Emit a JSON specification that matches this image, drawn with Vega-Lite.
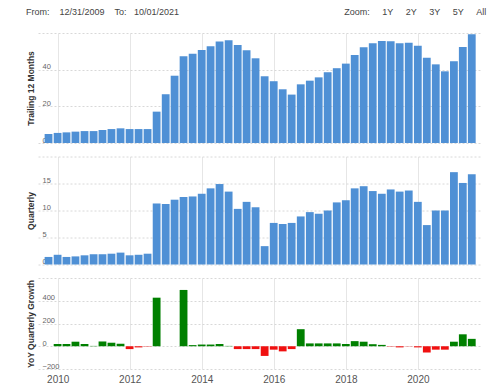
{
  "$schema": "https://vega.github.io/schema/vega-lite/v6.json",
  "padding": {"left": 26, "top": 8, "right": 4, "bottom": 2},
  "title": {
    "text": "From:\u00a0\u00a0\u00a0\u00a012/31/2009\u00a0\u00a0\u00a0\u00a0To:\u00a0\u00a0\u00a010/01/2021\u00a0\u00a0\u00a0\u00a0\u00a0\u00a0\u00a0\u00a0\u00a0\u00a0\u00a0\u00a0\u00a0\u00a0\u00a0\u00a0\u00a0\u00a0\u00a0\u00a0\u00a0\u00a0\u00a0\u00a0\u00a0\u00a0\u00a0\u00a0\u00a0\u00a0\u00a0\u00a0\u00a0\u00a0\u00a0\u00a0\u00a0\u00a0\u00a0\u00a0\u00a0\u00a0\u00a0\u00a0\u00a0\u00a0\u00a0\u00a0\u00a0\u00a0\u00a0\u00a0\u00a0\u00a0\u00a0\u00a0\u00a0\u00a0\u00a0\u00a0\u00a0\u00a0\u00a0\u00a0\u00a0\u00a0Zoom:\u00a0\u00a0\u00a0\u00a0\u00a01Y\u00a0\u00a0\u00a0\u00a0\u00a02Y\u00a0\u00a0\u00a0\u00a0\u00a03Y\u00a0\u00a0\u00a0\u00a0\u00a05Y\u00a0\u00a0\u00a0\u00a0\u00a0All",
    "anchor": "start",
    "font": "Liberation Sans",
    "fontSize": 9,
    "fontWeight": "normal",
    "color": "#444",
    "offset": 16
  },
  "data": {
    "values": [
      {"date": "2009-09-30", "t12m": 4.9, "quarterly": 1.4, "growth": null},
      {"date": "2009-12-31", "t12m": 5.5, "quarterly": 1.8, "growth": 20},
      {"date": "2010-03-31", "t12m": 5.8, "quarterly": 1.4, "growth": 20},
      {"date": "2010-06-30", "t12m": 6.2, "quarterly": 1.5, "growth": 40},
      {"date": "2010-09-30", "t12m": 6.5, "quarterly": 1.7, "growth": 20},
      {"date": "2010-12-31", "t12m": 6.5, "quarterly": 1.9, "growth": 3},
      {"date": "2011-03-31", "t12m": 7.1, "quarterly": 1.9, "growth": 42},
      {"date": "2011-06-30", "t12m": 7.6, "quarterly": 2.0, "growth": 31},
      {"date": "2011-09-30", "t12m": 8.0, "quarterly": 2.2, "growth": 22},
      {"date": "2011-12-31", "t12m": 7.6, "quarterly": 1.7, "growth": -25},
      {"date": "2012-03-31", "t12m": 7.6, "quarterly": 1.8, "growth": -10},
      {"date": "2012-06-30", "t12m": 7.6, "quarterly": 2.0, "growth": -3},
      {"date": "2012-09-30", "t12m": 17.1, "quarterly": 11.3, "growth": 427},
      {"date": "2012-12-31", "t12m": 26.6, "quarterly": 11.2, "growth": null},
      {"date": "2013-03-31", "t12m": 36.7, "quarterly": 12.0, "growth": null},
      {"date": "2013-06-30", "t12m": 47.3, "quarterly": 12.5, "growth": 495},
      {"date": "2013-09-30", "t12m": 48.7, "quarterly": 12.6, "growth": 10},
      {"date": "2013-12-31", "t12m": 50.7, "quarterly": 13.1, "growth": 15},
      {"date": "2014-03-31", "t12m": 52.8, "quarterly": 14.1, "growth": 15},
      {"date": "2014-06-30", "t12m": 55.3, "quarterly": 14.9, "growth": 20},
      {"date": "2014-09-30", "t12m": 56.0, "quarterly": 13.5, "growth": 3},
      {"date": "2014-12-31", "t12m": 53.5, "quarterly": 10.3, "growth": -25},
      {"date": "2015-03-31", "t12m": 50.6, "quarterly": 11.6, "growth": -25},
      {"date": "2015-06-30", "t12m": 46.2, "quarterly": 10.6, "growth": -25},
      {"date": "2015-09-30", "t12m": 36.4, "quarterly": 3.4, "growth": -85},
      {"date": "2015-12-31", "t12m": 33.7, "quarterly": 7.7, "growth": -30},
      {"date": "2016-03-31", "t12m": 29.3, "quarterly": 7.5, "growth": -45},
      {"date": "2016-06-30", "t12m": 26.4, "quarterly": 7.7, "growth": -25},
      {"date": "2016-09-30", "t12m": 32.0, "quarterly": 8.9, "growth": 150},
      {"date": "2016-12-31", "t12m": 34.0, "quarterly": 9.7, "growth": 25},
      {"date": "2017-03-31", "t12m": 35.8, "quarterly": 9.4, "growth": 25},
      {"date": "2017-06-30", "t12m": 38.6, "quarterly": 10.0, "growth": 25},
      {"date": "2017-09-30", "t12m": 40.8, "quarterly": 11.5, "growth": 25},
      {"date": "2017-12-31", "t12m": 43.3, "quarterly": 11.9, "growth": 20},
      {"date": "2018-03-31", "t12m": 48.0, "quarterly": 14.1, "growth": 45},
      {"date": "2018-06-30", "t12m": 52.2, "quarterly": 14.5, "growth": 40},
      {"date": "2018-09-30", "t12m": 54.4, "quarterly": 13.6, "growth": 18},
      {"date": "2018-12-31", "t12m": 55.6, "quarterly": 13.1, "growth": 12},
      {"date": "2019-03-31", "t12m": 55.5, "quarterly": 13.9, "growth": -3},
      {"date": "2019-06-30", "t12m": 54.4, "quarterly": 13.5, "growth": -10},
      {"date": "2019-09-30", "t12m": 54.7, "quarterly": 13.7, "growth": -2},
      {"date": "2019-12-31", "t12m": 53.1, "quarterly": 11.6, "growth": -10},
      {"date": "2020-03-31", "t12m": 46.5, "quarterly": 7.3, "growth": -55},
      {"date": "2020-06-30", "t12m": 42.9, "quarterly": 10.0, "growth": -30},
      {"date": "2020-09-30", "t12m": 39.1, "quarterly": 10.0, "growth": -30},
      {"date": "2020-12-31", "t12m": 44.6, "quarterly": 17.1, "growth": 40},
      {"date": "2021-03-31", "t12m": 52.4, "quarterly": 15.1, "growth": 105},
      {"date": "2021-06-30", "t12m": 59.3, "quarterly": 16.7, "growth": 65}
    ]
  },
  "spacing": 12.5,
  "vconcat": [
    {
      "width": 444,
      "height": 110,
      "mark": {"type": "bar", "size": 7.8, "color": "#4f90d5"},
      "encoding": {
        "x": {
          "field": "date", "type": "temporal",
          "scale": {"domain": [{"year": 2009, "month": 8, "date": 5}, {"year": 2021, "month": 8, "date": 22}]},
          "axis": {"values": [{"year": 2010, "month": 1, "date": 1}, {"year": 2012, "month": 1, "date": 1}, {"year": 2014, "month": 1, "date": 1}, {"year": 2016, "month": 1, "date": 1}, {"year": 2018, "month": 1, "date": 1}, {"year": 2020, "month": 1, "date": 1}], "labels": false, "title": null}
        },
        "y": {
          "field": "t12m", "type": "quantitative",
          "scale": {"domain": [0, 60], "nice": false},
          "axis": {"values": [0, 20, 40, 60], "labelExpr": "datum.value == 60 ? '' : datum.label", "title": "Trailing 12 Months"}
        }
      }
    },
    {
      "width": 444,
      "height": 108,
      "mark": {"type": "bar", "size": 7.8, "color": "#4f90d5"},
      "encoding": {
        "x": {
          "field": "date", "type": "temporal",
          "scale": {"domain": [{"year": 2009, "month": 8, "date": 5}, {"year": 2021, "month": 8, "date": 22}]},
          "axis": {"values": [{"year": 2010, "month": 1, "date": 1}, {"year": 2012, "month": 1, "date": 1}, {"year": 2014, "month": 1, "date": 1}, {"year": 2016, "month": 1, "date": 1}, {"year": 2018, "month": 1, "date": 1}, {"year": 2020, "month": 1, "date": 1}], "labels": false, "title": null}
        },
        "y": {
          "field": "quarterly", "type": "quantitative",
          "scale": {"domain": [0, 20], "nice": false},
          "axis": {"values": [0, 5, 10, 15, 20], "labelExpr": "datum.value == 20 ? '' : datum.label", "title": "Quarterly"}
        }
      }
    },
    {
      "width": 444,
      "height": 91,
      "mark": {"type": "bar", "size": 7.8},
      "encoding": {
        "x": {
          "field": "date", "type": "temporal",
          "scale": {"domain": [{"year": 2009, "month": 8, "date": 5}, {"year": 2021, "month": 8, "date": 22}]},
          "axis": {"values": [{"year": 2010, "month": 1, "date": 1}, {"year": 2012, "month": 1, "date": 1}, {"year": 2014, "month": 1, "date": 1}, {"year": 2016, "month": 1, "date": 1}, {"year": 2018, "month": 1, "date": 1}, {"year": 2020, "month": 1, "date": 1}], "format": "%Y", "title": null}
        },
        "y": {
          "field": "growth", "type": "quantitative",
          "scale": {"domain": [-200, 600], "nice": false},
          "axis": {"values": [-200, 0, 200, 400, 600], "labelExpr": "datum.value == 600 ? '' : datum.label", "title": "YoY Quarterly Growth"}
        },
        "color": {
          "condition": {"test": "datum.growth < 0", "value": "#f01010"},
          "value": "#008000"
        }
      }
    }
  ],
  "config": {
    "view": {"stroke": null},
    "font": "Liberation Sans",
    "axisX": {
      "grid": true, "gridColor": "#e6e6e6", "gridWidth": 1,
      "domain": false, "ticks": false,
      "labelColor": "#555", "labelFont": "Liberation Sans", "labelFontSize": 10,
      "labelPadding": 5, "labelFlush": false
    },
    "axisY": {
      "grid": true, "gridColor": "#d8d8d8", "gridDash": [2, 2], "gridWidth": 1,
      "domain": false, "ticks": false,
      "labelAlign": "left", "labelPadding": -4, "labelBaseline": "middle", "labelOffset": -3,
      "labelColor": "#666", "labelFont": "Liberation Sans", "labelFontSize": 7.5, "labelFlush": false,
      "titleFont": "Liberation Sans", "titleFontSize": 8.5, "titleFontWeight": "bold", "titleColor": "#333", "titlePadding": 3
    }
  }
}
